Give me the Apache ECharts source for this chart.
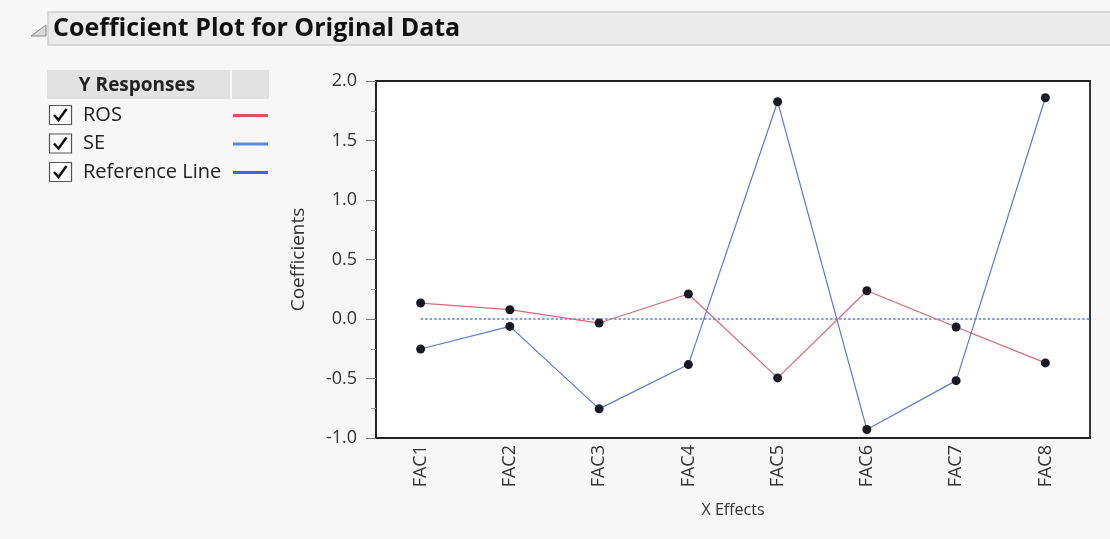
<!DOCTYPE html>
<html>
<head>
<meta charset="utf-8">
<script src="https://cdn.jsdelivr.net/npm/echarts@6/dist/echarts.min.js"></script>
<style>
html,body{margin:0;padding:0;background:#f7f7f7;}
#c{width:1110px;height:539px;}
</style>
</head>
<body>
<div id="c"></div>
<script>
const categories = ['FAC1','FAC2','FAC3','FAC4','FAC5','FAC6','FAC7','FAC8'];
const rosValues = [0.134, 0.078, -0.034, 0.210, -0.495, 0.237, -0.067, -0.369];
const seValues  = [-0.252, -0.062, -0.755, -0.383, 1.826, -0.929, -0.518, 1.859];
const referenceValue = 0;
const yTicks = [-1.0, -0.5, 0.0, 0.5, 1.0, 1.5, 2.0];
const legendItems = ['ROS', 'SE', 'Reference Line'];
const legendColors = ['#d9535f', '#5b8ad8', '#3d66e8'];

const FONT = '"Open Sans", "Noto Sans", sans-serif';
const chart = echarts.init(document.getElementById('c'), null, {renderer: 'canvas'});

const graphics = [];
// title bar
graphics.push({type:'rect', shape:{x:48, y:12, width:1080, height:33}, style:{fill:'#ebebeb', stroke:'#d0d0d0', lineWidth:1.5}, silent:true});
graphics.push({type:'polygon', shape:{points:[[46,25],[46,36],[31,36]]}, style:{fill:'#dadada', stroke:'#8a8a8a', lineWidth:1}});
graphics.push({type:'text', x:53, y:29, style:{text:'Coefficient Plot for Original Data', font:'bold 25px ' + FONT, fill:'#111', verticalAlign:'middle'}});
// legend table
graphics.push({type:'rect', shape:{x:47, y:70, width:183, height:29}, style:{fill:'#e2e2e2'}});
graphics.push({type:'rect', shape:{x:232, y:70, width:37, height:29}, style:{fill:'#e2e2e2'}});
graphics.push({type:'text', x:137, y:86, style:{text:'Y Responses', font:'bold 19px ' + FONT, fill:'#222', align:'center', verticalAlign:'middle'}});
legendItems.forEach((name, i) => {
  const cy = 115 + i * 28.5;
  graphics.push({type:'rect', shape:{x:49.5, y:cy - 9.5, width:22, height:19}, style:{fill:'#fdfdfd', stroke:'#555', lineWidth:1.2}});
  graphics.push({type:'polyline', shape:{points:[[54, cy], [58.5, cy + 5], [66.5, cy - 6]]}, style:{stroke:'#111', lineWidth:2.5, fill:null}});
  graphics.push({type:'text', x:83, y:cy, style:{text:name, font:'20px ' + FONT, fill:'#222', verticalAlign:'middle'}});
  graphics.push({type:'line', shape:{x1:233, y1:cy + 0.5, x2:268, y2:cy + 0.5}, style:{stroke:legendColors[i], lineWidth:3}});
});

const option = {
  animation: false,
  backgroundColor: '#f7f7f7',
  textStyle: {fontFamily: FONT},
  grid: {left: 376, top: 81, width: 714, height: 357, show: true, backgroundColor: '#fff', borderColor: '#222', borderWidth: 1.8, containLabel: false},
  xAxis: [{
    type: 'category', data: categories, boundaryGap: true,
    name: 'X Effects', nameLocation: 'middle', nameGap: 64,
    nameTextStyle: {fontSize: 16, color: '#333', fontFamily: FONT},
    axisLine: {show: true, onZero: false, lineStyle: {color: '#222', width: 1.8}},
    axisTick: {show: false},
    axisLabel: {rotate: 90, fontSize: 18, color: '#333', margin: 7, fontFamily: FONT}
  }, {
    type: 'value', min: 0, max: 8, show: false
  }],
  yAxis: {
    type: 'value', min: -1, max: 2, interval: 0.5,
    name: 'Coefficients', nameLocation: 'middle', nameGap: 68, nameRotate: 90,
    nameTextStyle: {fontSize: 19, color: '#333', fontFamily: FONT},
    axisLine: {show: true, lineStyle: {color: '#222', width: 1.8}},
    axisTick: {show: true, length: 10, lineStyle: {color: '#777'}},
    minorTick: {show: true, splitNumber: 2, length: 5, lineStyle: {color: '#999'}},
    splitLine: {show: false},
    axisLabel: {fontSize: 18, color: '#333', margin: 19, fontFamily: FONT,
      formatter: v => yTicks.includes(Math.round(v*10)/10) ? v.toFixed(1) : ''}
  },
  series: [{
    name: 'Reference Line', type: 'line', xAxisIndex: 1, symbol: 'none',
    data: [[0.5, referenceValue], [8, referenceValue]],
    lineStyle: {color: '#7ea0e8', width: 2, type: [2.5, 2]}, z: 1
  }, {
    name: 'ROS', type: 'line', data: rosValues, symbol: 'circle', symbolSize: 9,
    lineStyle: {color: '#d46a78', width: 1.2}, itemStyle: {color: '#1a1a24'}, z: 3
  }, {
    name: 'SE', type: 'line', data: seValues, symbol: 'circle', symbolSize: 9,
    lineStyle: {color: '#5a78d4', width: 1.2}, itemStyle: {color: '#1a1a24'}, z: 3
  }],
  graphic: graphics
};
chart.setOption(option);
</script>
</body>
</html>
